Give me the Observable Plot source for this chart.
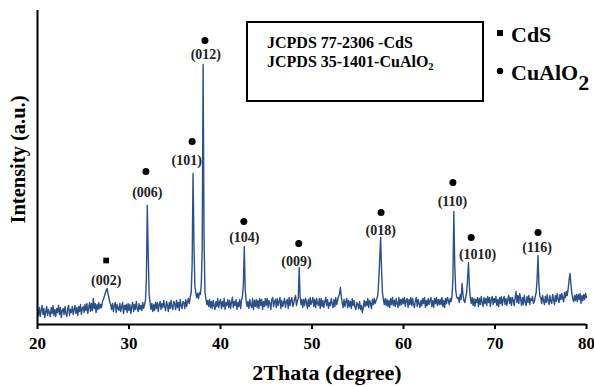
<!DOCTYPE html>
<html>
<head>
<meta charset="utf-8">
<script src="https://cdn.jsdelivr.net/npm/d3@7"></script>
<script src="https://cdn.jsdelivr.net/npm/@observablehq/plot@0.6"></script>
<style>
  html, body { margin: 0; padding: 0; background: white; }
  #chart { position: relative; width: 594px; height: 386px; }
  #chart svg text { font-family: "Liberation Serif", "Times New Roman", serif; }
  g[aria-label="x-axis tick label"] text { font-weight: bold; }
</style>
</head>
<body>
<div id="chart"></div>
<script>
// XRD pattern: intensity (a.u.) sampled every 0.1 degree from 20 to 80 (2-theta)
const thetaStart = 20;
const thetaStep = 0.1;
const intensity = [
  15,9,17,8,14,19,10,16,7,13,
  18,9,15,12,8,17,11,19,9,15,
  8,16,12,19,10,17,7,14,16,10,
  18,11,8,16,19,9,15,12,18,10,
  15,19,11,17,9,18,13,20,10,16,
  18,12,20,14,21,11,17,22,13,21,
  14,26,16,21,12,20,15,22,16,20,
  17,23,25,28,31,34,36,31,27,22,
  20,15,21,13,19,22,12,20,16,14,
  21,13,18,22,11,19,15,20,12,21,
  14,20,11,18,22,13,20,15,23,16,
  13,21,15,19,14,22,16,20,24,45,
  119,70,30,22,15,21,13,20,14,22,
  16,22,13,20,23,15,21,17,24,18,
  14,23,19,13,22,16,24,18,15,23,
  21,15,24,17,22,14,25,19,16,23,
  22,16,25,18,23,26,21,28,32,60,
  151,80,38,32,27,31,26,32,30,40,
  75,260,90,32,26,20,24,18,25,17,
  23,16,24,19,15,23,18,26,17,22,
  25,16,23,18,26,15,22,19,25,17,
  24,16,22,27,17,23,19,25,15,22,
  18,25,16,24,28,40,78,35,24,18,
  23,16,25,19,17,26,15,24,18,25,
  17,24,16,26,19,25,15,23,18,26,
  19,26,17,24,21,15,25,27,18,23,
  25,17,26,19,23,27,16,24,18,22,
  26,17,23,25,16,27,19,24,27,18,
  21,26,29,19,24,26,57,28,20,25,
  17,25,19,26,22,16,25,18,27,20,
  23,27,18,25,17,26,21,19,26,16,
  26,18,24,17,23,27,19,25,16,22,
  19,26,21,17,25,18,27,20,24,28,
  30,37,28,22,17,25,18,23,26,17,
  24,18,23,16,26,19,24,17,15,22,
  20,16,23,15,19,12,17,24,18,23,
  19,26,17,24,21,16,25,20,26,21,
  24,26,30,45,65,87,55,32,25,20,
  26,19,25,18,24,17,26,20,27,19,
  24,18,26,21,17,27,19,25,20,26,
  21,27,18,24,26,17,25,20,27,19,
  26,20,17,24,27,18,25,21,17,24,
  19,26,21,27,17,24,19,26,20,24,
  27,18,24,17,26,21,27,19,25,20,
  25,20,27,18,24,17,26,21,27,24,
  20,26,23,28,45,113,60,35,28,26,
  27,22,30,25,41,30,24,22,27,32,
  45,62,38,27,21,27,19,26,18,25,
  22,27,18,26,20,28,22,18,27,21,
  26,19,28,22,27,18,25,28,20,26,
  22,28,19,25,18,27,21,28,19,25,
  28,20,26,19,25,29,21,27,19,27,
  24,19,27,33,22,29,21,31,26,19,
  27,20,29,23,19,28,22,29,20,26,
  24,28,21,23,28,32,45,69,40,28,
  27,21,29,24,20,28,22,30,24,20,
  29,23,21,30,25,20,29,23,31,25,
  22,30,25,31,26,23,32,27,33,29,
  36,45,51,40,31,26,23,29,24,30,
  23,30,25,31,21,29,24,30,25,31,
  27
];

// Peak annotations
const peakLabels   = ["(002)", "(006)", "(101)", "(012)", "(104)", "(009)", "(018)", "(110)", "(1010)", "(116)"];
const peakPhase    = ["CdS", "CuAlO2", "CuAlO2", "CuAlO2", "CuAlO2", "CuAlO2", "CuAlO2", "CuAlO2", "CuAlO2", "CuAlO2"];
const markerTheta  = [27.5, 31.85, 36.9, 38.3, 42.55, 48.55, 57.55, 65.4, 67.4, 74.7];
const markerHeight = [64, 153, 183, 284, 103, 81, 112, 142, 87, 92];
const labelTheta   = [27.5, 32.0, 36.3, 38.4, 42.6, 48.3, 57.5, 65.35, 68.1, 74.6];
const labelHeight  = [44, 132, 164, 270, 87, 63, 94, 123, 70, 77];

const xTicks = [20, 30, 40, 50, 60, 70, 80];
const xTitle = "2Thata (degree)";
const yTitle = "Intensity (a.u.)";

const data = intensity.map((v, i) => ({theta: +(thetaStart + i * thetaStep).toFixed(1), v}));
const peaks = peakLabels.map((label, i) => ({
  label, phase: peakPhase[i],
  mt: markerTheta[i], mh: markerHeight[i],
  lt: labelTheta[i], lh: labelHeight[i]
}));

const chart = Plot.plot({
  width: 594,
  height: 386,
  marginLeft: 37,
  marginRight: 8,
  marginTop: 10,
  marginBottom: 62,
  style: {background: "white", color: "black", fontFamily: "Liberation Serif", overflow: "visible"},
  x: {domain: [20, 80], label: null},
  y: {domain: [0, 314], axis: null},
  marks: [
    Plot.line(data, {x: "theta", y: "v", stroke: "#2b4f87", strokeWidth: 1.4}),
    Plot.ruleY([0], {stroke: "black", strokeWidth: 2}),
    Plot.ruleX([20], {stroke: "black", strokeWidth: 2}),
    Plot.axisX({ticks: xTicks, tickSize: 5, tickPadding: 7, fontSize: 17, tickFormat: d => String(d), label: null, strokeWidth: 2}),
    Plot.dot(peaks.filter(d => d.phase === "CuAlO2"), {x: "mt", y: "mh", r: 3.5, fill: "black", stroke: "none"}),
    Plot.dot(peaks.filter(d => d.phase === "CdS"), {x: "mt", y: "mh", r: 3.2, symbol: "square", fill: "black", stroke: "none"}),
    Plot.text(peaks, {x: "lt", y: "lh", text: "label", fontSize: 14, fontWeight: "bold", fill: "#222"}),
    Plot.text([yTitle], {frameAnchor: "left", textAnchor: "middle", lineAnchor: "middle", rotate: -90, dx: -19, dy: -8, fontSize: 20.5, fontWeight: "bold"}),
    Plot.text([xTitle], {frameAnchor: "bottom", textAnchor: "middle", lineAnchor: "bottom", dx: 15, dy: 55, fontSize: 22, fontWeight: "bold"})
  ]
});

document.getElementById("chart").appendChild(chart);

// Annotation box and legend
const svg = d3.select(chart);
const g = svg.append("g").attr("font-family", "Liberation Serif").attr("font-weight", "bold")
  .attr("fill", "black").attr("text-anchor", "start");
g.append("rect").attr("x", 247).attr("y", 22).attr("width", 236).attr("height", 79)
  .attr("fill", "white").attr("stroke", "black").attr("stroke-width", 2);
g.append("text").attr("x", 267).attr("y", 48).attr("font-size", 16).text("JCPDS 77-2306 -CdS");
const t2 = g.append("text").attr("x", 267).attr("y", 67).attr("font-size", 16);
t2.append("tspan").text("JCPDS 35-1401-CuAlO");
t2.append("tspan").attr("font-size", 10.5).attr("dy", 3).text("2");

g.append("rect").attr("x", 497).attr("y", 30).attr("width", 6).attr("height", 6);
g.append("text").attr("x", 511).attr("y", 42).attr("font-size", 22).text("CdS");
g.append("circle").attr("cx", 500).attr("cy", 71).attr("r", 3.2);
const t3 = g.append("text").attr("x", 511).attr("y", 80).attr("font-size", 22);
t3.append("tspan").text("CuAlO");
t3.append("tspan").attr("dy", 10).text("2");
</script>
</body>
</html>
